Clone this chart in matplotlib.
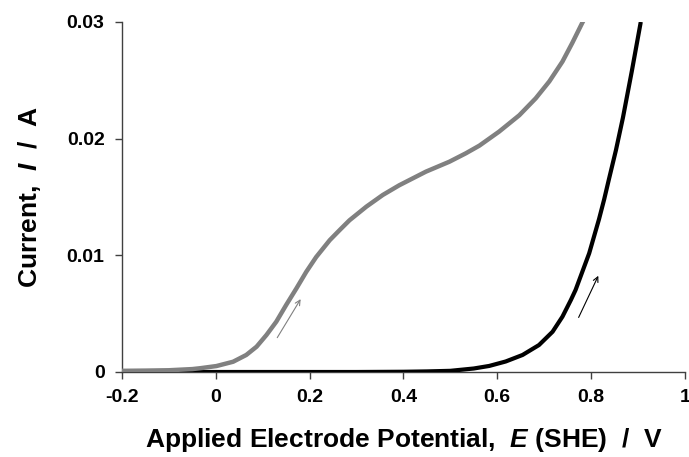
import matplotlib
matplotlib.use("Agg")
import matplotlib.pyplot as plt

plt.rcParams['font.family'] = ['Liberation Sans', 'DejaVu Sans']
plt.rcParams['font.weight'] = 'bold'
plt.rcParams['mathtext.fontset'] = 'custom'
plt.rcParams['mathtext.it'] = 'Liberation Sans:italic:bold'
plt.rcParams['mathtext.rm'] = 'Liberation Sans:bold'

# Gray curve (first sweep)
gray_x = [-0.2, -0.15, -0.1, -0.05, -0.034, 0.0014, 0.037, 0.065, 0.087, 0.108, 0.129,
          0.150, 0.172, 0.193, 0.214, 0.243, 0.265, 0.285, 0.321, 0.356, 0.391, 0.448, 0.498,
          0.533, 0.562, 0.604, 0.647, 0.682, 0.711, 0.739, 0.760, 0.781, 0.790]
gray_y = [0.0001, 0.00012, 0.00015, 0.00025, 0.00032, 0.00051, 0.00088, 0.00146, 0.00217, 0.00317, 0.00431,
          0.00574, 0.00717, 0.00859, 0.00985, 0.0113, 0.0122, 0.0130, 0.01417, 0.01517, 0.0160, 0.01717, 0.01802,
          0.01874, 0.0194, 0.0206, 0.0220, 0.02345, 0.0249, 0.0266, 0.0282, 0.0299, 0.0306]

# Black curve
black_x = [-0.2, 0.3, 0.4, 0.45, 0.5, 0.55, 0.583, 0.618, 0.654, 0.689, 0.718, 0.739,
           0.757, 0.767, 0.796, 0.817, 0.828, 0.838, 0.853, 0.868, 0.887, 0.906]
black_y = [0.0, 0.0, 0.00002, 0.00005, 0.0001, 0.0003, 0.00052, 0.0009, 0.00146, 0.00231, 0.00345, 0.00474,
           0.00617, 0.00703, 0.01017, 0.0131, 0.0148, 0.0165, 0.0190, 0.0218, 0.0258, 0.0300]

# Sweep-direction arrows (tail, head)
gray_arrow = [(0.128, 0.00274), (0.184, 0.00645)]
black_arrow = [(0.771, 0.00446), (0.818, 0.00846)]

x_ticks = [-0.2, 0, 0.2, 0.4, 0.6, 0.8, 1]
x_labels = ['-0.2', '0', '0.2', '0.4', '0.6', '0.8', '1']
y_ticks = [0, 0.01, 0.02, 0.03]
y_labels = ['0', '0.01', '0.02', '0.03']

fig = plt.figure(figsize=(6.89, 4.57), dpi=100)
ax = fig.add_axes([0.177, 0.186, 0.817, 0.766])

ax.plot(black_x, black_y, color='black', lw=3.0, solid_capstyle='butt',
        solid_joinstyle='round', zorder=3)
ax.plot(gray_x, gray_y, color='#808080', lw=3.2, solid_capstyle='butt',
        solid_joinstyle='round', zorder=4)

ax.annotate('', xy=gray_arrow[1], xytext=gray_arrow[0],
            arrowprops=dict(arrowstyle='->', color='#808080', lw=0.8, mutation_scale=9))
ax.annotate('', xy=black_arrow[1], xytext=black_arrow[0],
            arrowprops=dict(arrowstyle='->', color='black', lw=0.8, mutation_scale=9))

ax.set_xlim(-0.2, 1.0)
ax.set_ylim(0, 0.03)
ax.set_xticks(x_ticks)
ax.set_xticklabels(x_labels)
ax.set_yticks(y_ticks)
ax.set_yticklabels(y_labels)

for s in ['top', 'right']:
    ax.spines[s].set_visible(False)
for s in ['left', 'bottom']:
    ax.spines[s].set_color('#404040')
    ax.spines[s].set_linewidth(1.0)

ax.tick_params(direction='out', length=5, width=1, color='#404040', labelsize=14)
ax.tick_params(axis='x', pad=7)
ax.tick_params(axis='y', pad=7.5)
for lab in ax.get_xticklabels() + ax.get_yticklabels():
    lab.set_fontweight('bold')

ax.set_xlabel(r'Applied Electrode Potential,  $E$ (SHE)  /  V', fontsize=19,
              fontweight='bold', labelpad=15)
ax.set_ylabel(r'Current,  $I$  /  A', fontsize=19, fontweight='bold', labelpad=17)

fig.savefig('out.png', dpi=100)
